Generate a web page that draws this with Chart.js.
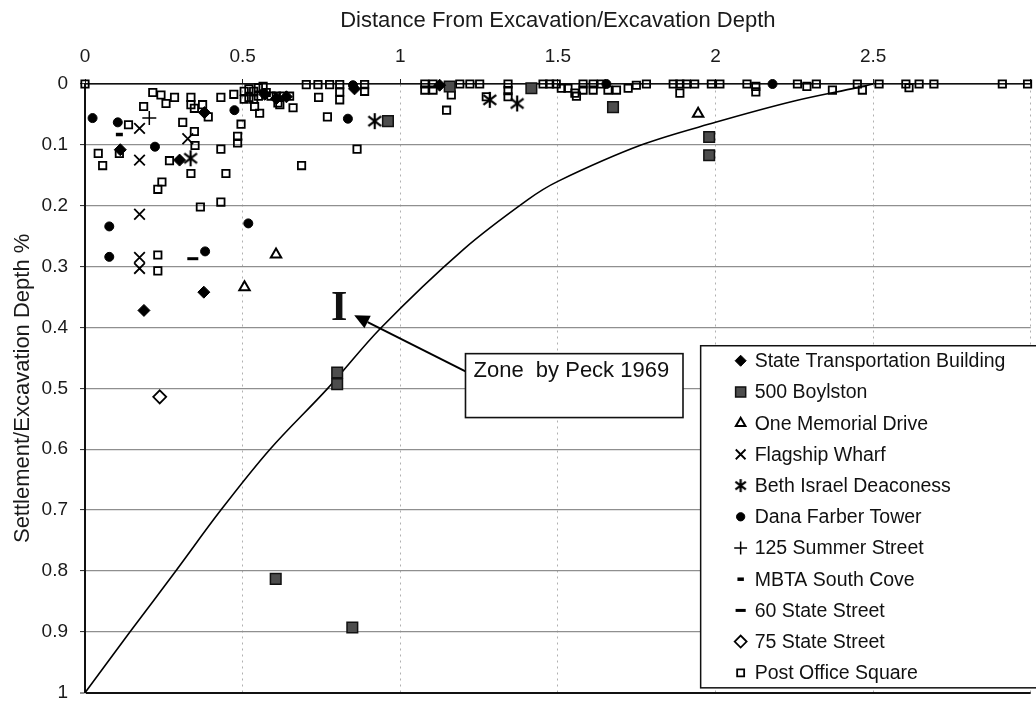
<!DOCTYPE html>
<html>
<head>
<meta charset="utf-8">
<script src="https://cdn.jsdelivr.net/npm/chart.js@4.4.1/dist/chart.umd.min.js"></script>
<style>
  html, body { margin: 0; padding: 0; background: #fff; overflow: hidden; }
  #wrap { width: 1040px; height: 702px; }
</style>
</head>
<body>
<div id="wrap"><canvas id="c" width="1040" height="702"></canvas></div>
<script>
const FONT = '"Liberation Sans", Arial, Helvetica, sans-serif';

// ---- data: [distance / excavation depth, settlement / excavation depth %] ----
const seriesNames = [
  'State Transportation Building', '500 Boylston', 'One Memorial Drive',
  'Flagship Wharf', 'Beth Israel Deaconess', 'Dana Farber Tower',
  '125 Summer Street', 'MBTA South Cove', '60 State Street',
  '75 State Street', 'Post Office Square'
];

const stateTransportation = [
  [0.112, 0.108], [0.300, 0.125], [0.379, 0.047], [0.187, 0.372], [0.377, 0.342],
  [0.570, 0.017], [0.607, 0.024], [0.639, 0.021], [0.855, 0.008], [1.125, 0.002]
];
const boylston500 = [
  [0.961, 0.061], [1.157, 0.004], [1.416, 0.007], [1.675, 0.038], [1.980, 0.087],
  [1.980, 0.117], [0.800, 0.474], [0.800, 0.493], [0.605, 0.813], [0.848, 0.893]
];
const oneMemorial = [[0.506, 0.334], [0.606, 0.280], [1.945, 0.049]];
const flagshipWharf = [
  [0.173, 0.073], [0.173, 0.125], [0.173, 0.214], [0.173, 0.285], [0.173, 0.303], [0.326, 0.090]
];
const bethIsrael = [[0.335, 0.122], [0.919, 0.061], [1.284, 0.026], [1.371, 0.032]];
const danaFarber = [
  [0.024, 0.056], [0.104, 0.063], [0.222, 0.103], [0.474, 0.043], [0.077, 0.234],
  [0.077, 0.284], [0.518, 0.229], [0.381, 0.275], [0.834, 0.057], [0.850, 0.002],
  [1.654, 0.000], [2.181, 0.000]
];
const summer125 = [[0.204, 0.056]];
const mbtaSouthCove = [[0.109, 0.083]];
const state60 = [[0.342, 0.287]];
const state75 = [[0.237, 0.514]];
const postOffice = [
  [0.000, 0.000], [0.042, 0.114], [0.056, 0.134], [0.109, 0.114], [0.138, 0.067],
  [0.186, 0.037], [0.215, 0.014], [0.241, 0.018], [0.257, 0.032], [0.284, 0.022],
  [0.310, 0.063], [0.336, 0.022], [0.336, 0.034], [0.347, 0.040], [0.347, 0.078],
  [0.349, 0.101], [0.373, 0.034], [0.391, 0.054], [0.268, 0.126], [0.336, 0.147],
  [0.447, 0.147], [0.431, 0.022], [0.431, 0.107], [0.472, 0.017], [0.495, 0.066],
  [0.484, 0.086], [0.484, 0.097], [0.231, 0.173], [0.244, 0.161], [0.366, 0.202],
  [0.431, 0.194], [0.231, 0.281], [0.231, 0.307],
  [0.505, 0.012], [0.505, 0.025], [0.520, 0.008], [0.520, 0.022], [0.535, 0.012],
  [0.535, 0.025], [0.538, 0.037], [0.550, 0.006], [0.550, 0.020], [0.554, 0.048],
  [0.565, 0.004], [0.575, 0.014], [0.590, 0.020], [0.607, 0.020], [0.612, 0.031],
  [0.618, 0.034], [0.628, 0.020], [0.649, 0.020], [0.660, 0.039],
  [0.702, 0.001], [0.739, 0.001], [0.741, 0.022], [0.769, 0.054], [0.776, 0.001],
  [0.808, 0.001], [0.808, 0.013], [0.808, 0.026], [0.863, 0.107], [0.687, 0.134],
  [0.887, 0.001], [0.887, 0.012],
  [1.078, 0.000], [1.078, 0.010], [1.104, 0.000], [1.104, 0.010], [1.147, 0.043],
  [1.162, 0.018], [1.189, 0.000], [1.221, 0.000], [1.252, 0.000], [1.273, 0.021],
  [1.342, 0.000], [1.342, 0.011], [1.342, 0.021], [1.453, 0.000], [1.474, 0.000],
  [1.495, 0.000], [1.511, 0.007], [1.532, 0.007], [1.554, 0.015], [1.559, 0.020],
  [1.580, 0.000], [1.580, 0.010], [1.612, 0.000], [1.612, 0.010], [1.638, 0.000],
  [1.659, 0.010], [1.686, 0.010], [1.723, 0.007], [1.749, 0.002], [1.781, 0.000],
  [1.866, 0.000], [1.887, 0.000], [1.887, 0.015], [1.908, 0.000], [1.934, 0.000],
  [1.987, 0.000], [2.014, 0.000],
  [2.100, 0.000], [2.128, 0.004], [2.128, 0.013], [2.260, 0.000], [2.290, 0.004],
  [2.320, 0.000], [2.371, 0.010], [2.450, 0.000], [2.466, 0.010], [2.519, 0.000],
  [2.604, 0.000], [2.614, 0.006], [2.646, 0.000], [2.693, 0.000], [2.910, 0.000],
  [2.990, 0.000]
];

// boundary of Zone I (Peck 1969)
const zoneCurve = [
  [0.000, 1.000], [0.143, 0.900], [0.288, 0.800], [0.431, 0.700], [0.587, 0.600],
  [0.770, 0.500], [0.940, 0.400], [1.200, 0.272], [1.405, 0.190], [1.500, 0.160],
  [1.766, 0.100], [2.000, 0.063], [2.250, 0.028], [2.450, 0.006], [2.500, 0.000]
];

const xTicks = [0, 0.5, 1, 1.5, 2, 2.5, 3];
const yTicks = [0, 0.1, 0.2, 0.3, 0.4, 0.5, 0.6, 0.7, 0.8, 0.9, 1];

// six-armed asterisk marker (an X with a vertical stroke)
function makeAsterisk(size, lw) {
  const cv = document.createElement('canvas');
  cv.width = size; cv.height = size;
  const g = cv.getContext('2d');
  const c = size / 2, r = size / 2 - 1;
  g.strokeStyle = '#000';
  g.lineWidth = lw;
  g.lineCap = 'butt';
  g.beginPath();
  g.moveTo(c - r * 0.8, c - r * 0.6); g.lineTo(c + r * 0.8, c + r * 0.6);
  g.moveTo(c + r * 0.8, c - r * 0.6); g.lineTo(c - r * 0.8, c + r * 0.6);
  g.moveTo(c, c - r); g.lineTo(c, c + r);
  g.stroke();
  return cv;
}
const asteriskMark = makeAsterisk(18, 2.2);
const asteriskKey = makeAsterisk(15, 2.2);

// ---- marker appearance per series ----
const markers = [
  { pointStyle: 'rectRot',    radius: 6,   bg: '#000',        border: '#000', width: 1   },
  { pointStyle: 'rect',       radius: 7.5, bg: '#4d4d4d',     border: '#111', width: 1.5 },
  { pointStyle: 'triangle',   radius: 6,   bg: '#fff',        border: '#000', width: 2   },
  { pointStyle: 'crossRot',   radius: 7.5, bg: 'transparent', border: '#000', width: 1.8 },
  { pointStyle: asteriskMark, radius: 7,   bg: 'transparent', border: '#000', width: 2, key: asteriskKey },
  { pointStyle: 'circle',     radius: 4.5, bg: '#000',        border: '#000', width: 1   },
  { pointStyle: 'cross',      radius: 7,   bg: 'transparent', border: '#000', width: 1.5 },
  { pointStyle: 'line',       radius: 3.5, bg: 'transparent', border: '#000', width: 3.5 },
  { pointStyle: 'line',       radius: 5.5, bg: 'transparent', border: '#000', width: 3   },
  { pointStyle: 'rectRot',    radius: 6.5, bg: '#fff',        border: '#000', width: 1.8 },
  { pointStyle: 'rect',       radius: 5.2, bg: 'transparent', border: '#000', width: 1.8 }
];

const seriesData = [
  stateTransportation, boylston500, oneMemorial, flagshipWharf, bethIsrael,
  danaFarber, summer125, mbtaSouthCove, state60, state75, postOffice
];

const toXY = pts => pts.map(([x, y]) => ({ x, y }));

const datasets = seriesData.map((pts, i) => ({
  label: seriesNames[i],
  data: toXY(pts),
  pointStyle: markers[i].pointStyle,
  pointRadius: markers[i].radius,
  pointHoverRadius: markers[i].radius,
  pointBackgroundColor: markers[i].bg,
  pointBorderColor: markers[i].border,
  pointBorderWidth: markers[i].width,
  showLine: false,
  clip: false
}));

datasets.push({
  label: 'Zone I',
  data: toXY(zoneCurve),
  showLine: true,
  pointRadius: 0,
  borderColor: '#000',
  borderWidth: 1.6,
  tension: 0.35,
  fill: false,
  clip: false
});

// ---- key box drawn inside the plot ----
const seriesKey = {
  id: 'seriesKey',
  afterDatasetsDraw(chart) {
    const { ctx, scales: { x, y } } = chart;
    const left = x.getPixelForValue(1.953);
    const top = y.getPixelForValue(0.43);
    const bottom = y.getPixelForValue(0.992);
    const right = chart.width + 10;
    ctx.save();
    ctx.fillStyle = '#fff';
    ctx.strokeStyle = '#111';
    ctx.lineWidth = 1.5;
    ctx.fillRect(left, top, right - left, bottom - top);
    ctx.strokeRect(left, top, right - left, bottom - top);
    const step = (bottom - top - 30) / (seriesNames.length - 1);
    seriesNames.forEach((name, i) => {
      const cy = top + 15 + i * step;
      const m = markers[i];
      ctx.save();
      ctx.fillStyle = m.bg;
      ctx.strokeStyle = m.border;
      ctx.lineWidth = m.width;
      const r = m.pointStyle === 'rect' ? m.radius * 0.95 : m.radius * 0.92;
      Chart.helpers.drawPoint(ctx, { pointStyle: m.key || m.pointStyle, radius: r, borderWidth: m.width, rotation: 0 }, left + 40, cy);
      ctx.restore();
      ctx.fillStyle = '#111';
      ctx.font = '19.5px ' + FONT;
      ctx.textBaseline = 'middle';
      ctx.textAlign = 'left';
      ctx.fillText(name, left + 54, cy + 1);
    });
    ctx.restore();
  }
};

// ---- Peck 1969 zone callout ----
const zoneCallout = {
  id: 'zoneCallout',
  afterDatasetsDraw(chart) {
    const { ctx, scales: { x, y } } = chart;
    const bx0 = x.getPixelForValue(1.207), by0 = y.getPixelForValue(0.443);
    const bx1 = x.getPixelForValue(1.897), by1 = y.getPixelForValue(0.548);
    const sx = bx0, sy = y.getPixelForValue(0.472);
    const tx = x.getPixelForValue(0.854), ty = y.getPixelForValue(0.380);
    ctx.save();
    // arrow
    ctx.strokeStyle = '#000';
    ctx.lineWidth = 2;
    const ang = Math.atan2(ty - sy, tx - sx);
    const headLen = 15, headHalf = 7;
    const hx = tx - Math.cos(ang) * headLen, hy = ty - Math.sin(ang) * headLen;
    ctx.beginPath();
    ctx.moveTo(sx, sy);
    ctx.lineTo(hx, hy);
    ctx.stroke();
    ctx.fillStyle = '#000';
    ctx.beginPath();
    ctx.moveTo(tx, ty);
    ctx.lineTo(hx + Math.sin(ang) * headHalf, hy - Math.cos(ang) * headHalf);
    ctx.lineTo(hx - Math.sin(ang) * headHalf, hy + Math.cos(ang) * headHalf);
    ctx.closePath();
    ctx.fill();
    // box
    ctx.fillStyle = '#fff';
    ctx.strokeStyle = '#111';
    ctx.lineWidth = 1.6;
    ctx.fillRect(bx0, by0, bx1 - bx0, by1 - by0);
    ctx.strokeRect(bx0, by0, bx1 - bx0, by1 - by0);
    ctx.fillStyle = '#111';
    ctx.font = '22px ' + FONT;
    ctx.textBaseline = 'middle';
    ctx.textAlign = 'left';
    ctx.fillText('Zone  by Peck 1969', bx0 + 8, by0 + 17);
    // zone label
    ctx.font = 'bold 42px "Liberation Serif", "Times New Roman", serif';
    ctx.textAlign = 'center';
    ctx.textBaseline = 'alphabetic';
    ctx.fillText('I', x.getPixelForValue(0.806), y.getPixelForValue(0.387));
    ctx.restore();
  }
};

new Chart(document.getElementById('c'), {
  type: 'scatter',
  data: { datasets },
  options: {
    responsive: false,
    animation: false,
    devicePixelRatio: 1,
    layout: { padding: { left: 0, top: 0, right: 6, bottom: 8 } },
    plugins: { legend: { display: false }, tooltip: { enabled: false } },
    scales: {
      x: {
        type: 'linear',
        position: 'top',
        min: 0,
        max: 3,
        afterBuildTicks: s => { s.ticks = xTicks.map(v => ({ value: v })); },
        afterFit: s => { s.height = 84; s.paddingLeft = 0; s.paddingRight = 0; },
        ticks: {
          font: { family: FONT, size: 19 },
          color: '#1a1a1a',
          padding: 11,
          maxRotation: 0,
          callback: v => (v >= 3 ? '' : String(v))
        },
        grid: {
          color: c => (c.tick && c.tick.value === 0) ? 'rgba(0,0,0,0)' : '#b0b0b0',
          lineWidth: 1,
          tickLength: 5,
          tickColor: '#222',
          tickWidth: 1
        },
        border: { display: true, color: '#111', width: 1.5, dash: [2, 4] },
        title: {
          display: true,
          text: 'Distance From Excavation/Excavation Depth',
          font: { family: FONT, size: 22 },
          color: '#1a1a1a',
          padding: { top: 8, bottom: 0 }
        }
      },
      y: {
        type: 'linear',
        reverse: true,
        min: 0,
        max: 1,
        afterBuildTicks: s => { s.ticks = yTicks.map(v => ({ value: v })); },
        afterFit: s => { s.width = 85; s.paddingTop = 0; s.paddingBottom = 0; },
        ticks: {
          font: { family: FONT, size: 19 },
          color: '#1a1a1a',
          padding: 12,
          callback: v => String(Math.round(v * 10) / 10)
        },
        grid: {
          color: c => {
            const v = c.tick ? c.tick.value : null;
            return (v === 0 || v === 1) ? '#111' : '#8f8f8f';
          },
          lineWidth: c => (c.tick && c.tick.value === 1) ? 2 : 1.2,
          tickLength: 5,
          tickColor: '#222',
          tickWidth: 1
        },
        border: { display: true, color: '#111', width: 2 },
        title: {
          display: true,
          text: 'Settlement/Excavation Depth %',
          font: { family: FONT, size: 22 },
          color: '#1a1a1a',
          padding: { top: 10, bottom: 0 }
        }
      }
    }
  },
  plugins: [zoneCallout, seriesKey]
});
</script>
</body>
</html>
